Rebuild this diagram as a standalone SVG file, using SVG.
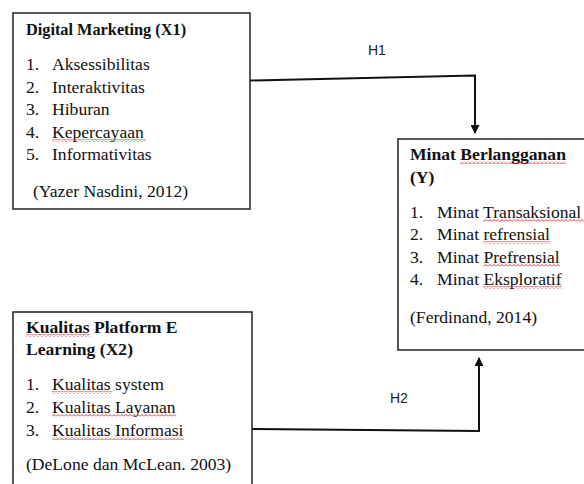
<svg xmlns="http://www.w3.org/2000/svg" width="584" height="484" viewBox="0 0 584 484">
<style>
.box{fill:#fff;stroke:#222;stroke-width:1.5}
.t{font-family:"Liberation Serif","Times New Roman",serif;font-size:17.6px;fill:#111}
.b{font-weight:bold}
.lbl{font-family:"Liberation Sans",Arial,sans-serif;font-size:14px;fill:#222}
.conn{fill:none;stroke:#111;stroke-width:2}
.sq{fill:url(#wave)}
</style>
<defs>
<marker id="arr" viewBox="0 0 10 10" refX="9" refY="5" markerWidth="4.5" markerHeight="4.5" orient="auto" markerUnits="strokeWidth">
<path d="M0,0 L10,5 L0,10 z" fill="#111"/>
</marker>
<pattern id="wave" width="4" height="3" patternUnits="userSpaceOnUse">
<path d="M0,2.5 L2,0.5 L4,2.5" fill="none" stroke="#e02020" stroke-width="0.9"/>
</pattern>
</defs>
<g id="connectors">
<path class="conn" d="M250,80.5 L475,75.5 L475,133" marker-end="url(#arr)"/>
<path class="conn" d="M252,429 L479,431 L479,358" marker-end="url(#arr)"/>
<text class="lbl" x="368" y="55">H1</text>
<text class="lbl" x="390" y="403">H2</text>
</g>
<g id="x1">
<rect class="box" x="13" y="13" width="237" height="196"/>
<text class="t b" x="26" y="35" style="font-size:16.3px">Digital Marketing (X1)</text>
<text class="t" x="26" y="70">1.</text><text class="t" x="52" y="70">Aksessibilitas</text>
<text class="t" x="26" y="92.5">2.</text><text class="t" x="52" y="92.5">Interaktivitas</text>
<text class="t" x="26" y="115">3.</text><text class="t" x="52" y="115">Hiburan</text>
<text class="t" x="26" y="137.5">4.</text><text class="t" x="52" y="137.5">Kepercayaan</text>
<text class="t" x="26" y="160">5.</text><text class="t" x="52" y="160">Informativitas</text>
<text class="t" x="33" y="197">(Yazer Nasdini, 2012)</text>
<rect class="sq" x="52" y="139" width="94" height="3"/>
</g>
<g id="x2">
<rect class="box" x="13" y="312" width="239" height="200"/>
<text class="t b" x="26" y="333">Kualitas Platform E</text>
<text class="t b" x="26" y="355">Learning (X2)</text>
<text class="t" x="26" y="390">1.</text><text class="t" x="52" y="390">Kualitas system</text>
<text class="t" x="26" y="413">2.</text><text class="t" x="52" y="413">Kualitas Layanan</text>
<text class="t" x="26" y="436">3.</text><text class="t" x="52" y="436">Kualitas Informasi</text>
<text class="t" x="26" y="470">(DeLone dan McLean. 2003)</text>
<rect class="sq" x="26" y="334" width="64" height="3"/>
<rect class="sq" x="52" y="391" width="60" height="3"/>
<rect class="sq" x="52" y="414" width="124" height="3"/>
<rect class="sq" x="52" y="437" width="132" height="3"/>
</g>
<g id="y">
<rect class="box" x="398" y="139" width="200" height="211"/>
<text class="t b" x="410" y="160">Minat Berlangganan</text>
<text class="t b" x="410" y="183">(Y)</text>
<text class="t" x="410" y="218">1.</text><text class="t" x="437" y="218">Minat Transaksional</text>
<text class="t" x="410" y="240">2.</text><text class="t" x="437" y="240">Minat refrensial</text>
<text class="t" x="410" y="262.5">3.</text><text class="t" x="437" y="262.5">Minat Prefrensial</text>
<text class="t" x="410" y="285">4.</text><text class="t" x="437" y="285">Minat Eksploratif</text>
<text class="t" x="410" y="323">(Ferdinand, 2014)</text>
<rect class="sq" x="460" y="161" width="106" height="3"/>
<rect class="sq" x="483" y="219" width="101" height="3"/>
<rect class="sq" x="483" y="241" width="67" height="3"/>
<rect class="sq" x="483" y="263.5" width="77" height="3"/>
<rect class="sq" x="483" y="286" width="79" height="3"/>
</g>
</svg>
